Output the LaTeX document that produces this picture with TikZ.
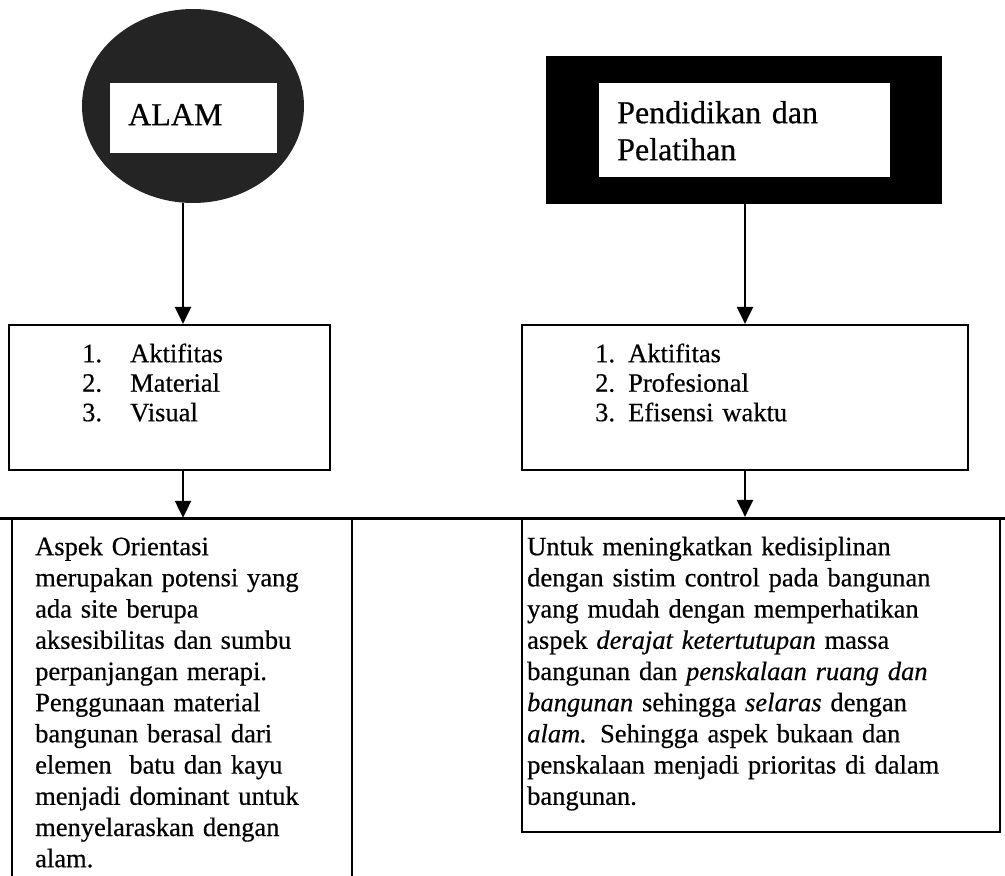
\documentclass[tikz,border=0pt]{standalone}
\usepackage{fontspec}
\setmainfont{Liberation Serif}[FakeBold=0.5]
\usetikzlibrary{shapes.geometric,arrows.meta}
\begin{document}
\begin{tikzpicture}[x=1pt,y=-1pt,
  frame/.style={draw=black,line width=2.2pt,rectangle,inner sep=0pt},
  link/.style={line width=2.2pt,-{Triangle[width=16pt,length=17pt]}},
  body/.style={font=\fontsize{26.5}{31.2}\selectfont,inner sep=0pt,anchor=north west,align=left},
  items/.style={font=\fontsize{26.5}{29.5}\selectfont,inner sep=0pt,anchor=north west,align=left},
  head/.style={font=\fontsize{32}{37}\selectfont,inner sep=0pt,anchor=north west,align=left}]
\useasboundingbox (0,0) rectangle (1005,876);
\clip (0,0) rectangle (1005,876);

% column axes for the connectors
\coordinate (colA) at (183,0);
\coordinate (colB) at (745,0);

% left heading: dark disc with a white card
\node[ellipse,fill=black!86,minimum width=222pt,minimum height=194pt,inner sep=0pt] (alamdisc) at (193,106) {};
\node[rectangle,fill=white,minimum width=167pt,minimum height=70pt,inner sep=0pt] (alamcard) at (193.5,118) {};
\node[head] (alamtext) at (128,99.1) {\strut ALAM};

% right heading: black frame with a white card
\node[rectangle,fill=black,minimum width=396pt,minimum height=148pt,inner sep=0pt] (didikframe) at (744,130) {};
\node[rectangle,fill=white,minimum width=291pt,minimum height=94pt,inner sep=0pt] (didikcard) at (744.5,130) {};
\node[head,text width=265pt] (didiktext) at (617,97.1) {\strut Pendidikan dan\\Pelatihan};

% numbered lists
\node[frame,minimum width=321pt,minimum height=145pt] (listA) at (169.5,397.5) {};
\node[items,text width=240pt] (listAtext) at (82,341.35) {\strut\makebox[48pt][l]{1.}Aktifitas\\\makebox[48pt][l]{2.}Material\\\makebox[48pt][l]{3.}Visual};

\node[frame,minimum width=446pt,minimum height=145pt] (listB) at (745,397.5) {};
\node[items,text width=340pt] (listBtext) at (595,341.35) {\strut\makebox[33pt][l]{1.}Aktifitas\\\makebox[33pt][l]{2.}Profesional\\\makebox[33pt][l]{3.}Efisensi waktu};

% rule along the top of the description boxes
\draw[line width=2.2pt] (0,518.5) -- (1005,518.5);

% description boxes
\node[minimum width=340pt,minimum height=372pt,inner sep=0pt] (noteA) at (182,704) {};
\draw[line width=2.2pt] (noteA.south west) -- (noteA.north west) -- (noteA.north east) -- (noteA.south east);
\node[body,text width=320pt] (noteAtext) at (35,533.16) {\strut Aspek Orientasi\\
merupakan potensi yang\\
ada site berupa\\
aksesibilitas dan sumbu\\
perpanjangan merapi.\\
Penggunaan material\\
bangunan berasal dari\\
elemen\ \ batu dan kayu\\
menjadi dominant untuk\\
menyelaraskan dengan\\
alam.};

\node[frame,minimum width=478pt,minimum height=314pt] (noteB) at (761,675) {};
\node[body,text width=470pt] (noteBtext) at (527,533.16) {\strut Untuk meningkatkan kedisiplinan\\
dengan sistim control pada bangunan\\
yang mudah dengan memperhatikan\\
aspek \textit{derajat ketertutupan} massa\\
bangunan dan \textit{penskalaan ruang dan}\\
\textit{bangunan} sehingga \textit{selaras} dengan\\
\textit{alam.} Sehingga aspek bukaan dan\\
penskalaan menjadi prioritas di dalam\\
bangunan.};

% connectors
\draw[link] (alamdisc.south -| colA) -- (listA.north -| colA);
\draw[link] (didikframe.south -| colB) -- (listB.north -| colB);
\draw[link] (listA.south -| colA) -- (noteA.north -| colA);
\draw[link] (listB.south -| colB) -- (noteB.north -| colB);
\end{tikzpicture}
\end{document}
